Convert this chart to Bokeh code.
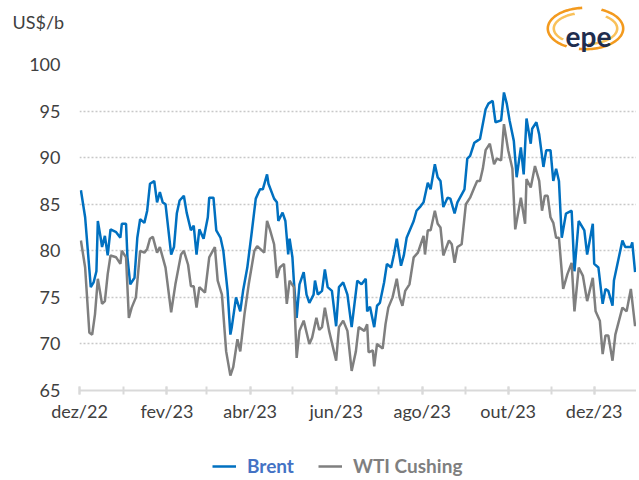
import numpy as np
import pandas as pd
from bokeh.plotting import figure
from bokeh.layouts import column
from bokeh.models import Range1d, FixedTicker, Legend, LegendItem
from bokeh.core.properties import value
from bokeh.embed import file_html
from bokeh.resources import INLINE

brent_dates = ["2022-12-02","2022-12-05","2022-12-09","2022-12-11","2022-12-13","2022-12-14","2022-12-16","2022-12-17","2022-12-19","2022-12-21","2022-12-23","2022-12-27","2022-12-30","2022-12-31",
"2023-01-03","2023-01-04","2023-01-06","2023-01-09","2023-01-11","2023-01-13","2023-01-16","2023-01-18","2023-01-20","2023-01-23","2023-01-25","2023-01-27","2023-01-29","2023-01-31",
"2023-02-04","2023-02-06","2023-02-08","2023-02-10","2023-02-13","2023-02-15","2023-02-18","2023-02-20","2023-02-22","2023-02-24","2023-02-27",
"2023-03-02","2023-03-03","2023-03-06","2023-03-08","2023-03-11","2023-03-13","2023-03-16","2023-03-18","2023-03-19","2023-03-22","2023-03-25","2023-03-27","2023-03-30",
"2023-04-02","2023-04-05","2023-04-08","2023-04-10","2023-04-13","2023-04-14","2023-04-18","2023-04-20","2023-04-21","2023-04-24","2023-04-26","2023-04-28","2023-04-29",
"2023-05-01","2023-05-02","2023-05-04","2023-05-06","2023-05-09","2023-05-11","2023-05-13","2023-05-16","2023-05-17","2023-05-19","2023-05-22","2023-05-24","2023-05-26","2023-05-29",
"2023-06-01","2023-06-03","2023-06-06","2023-06-09","2023-06-12","2023-06-16","2023-06-19","2023-06-22","2023-06-23","2023-06-25","2023-06-28","2023-06-30",
"2023-07-02","2023-07-05","2023-07-07","2023-07-10","2023-07-12","2023-07-14","2023-07-17","2023-07-19","2023-07-21","2023-07-26","2023-07-28","2023-07-31",
"2023-08-02","2023-08-05","2023-08-07","2023-08-10","2023-08-12","2023-08-14","2023-08-16","2023-08-19","2023-08-21","2023-08-24","2023-08-26","2023-08-31",
"2023-09-02","2023-09-04","2023-09-07","2023-09-09","2023-09-11","2023-09-15","2023-09-17","2023-09-20","2023-09-22","2023-09-26","2023-09-28","2023-09-30",
"2023-10-02","2023-10-05","2023-10-07","2023-10-10","2023-10-12","2023-10-14","2023-10-17","2023-10-18","2023-10-21","2023-10-23","2023-10-26","2023-10-28","2023-10-31",
"2023-11-02","2023-11-04","2023-11-06","2023-11-08","2023-11-11","2023-11-15","2023-11-17","2023-11-20","2023-11-24","2023-11-26","2023-11-30",
"2023-12-01","2023-12-04","2023-12-07","2023-12-09","2023-12-11","2023-12-14","2023-12-15","2023-12-21","2023-12-23","2023-12-27","2023-12-28","2023-12-30"]
brent_values = [86.5,83.6,76.1,76.6,77.8,83.2,81.4,80.4,81.6,79.5,82.3,82.0,81.4,82.9,
82.9,79.3,76.4,77.1,81.4,83.4,83.0,84.3,87.2,87.5,85.2,86.3,85.2,85.0,
79.6,80.4,84.0,85.4,85.9,84.1,82.2,82.7,79.6,82.3,81.3,
83.6,85.7,85.7,82.2,81.4,80.0,75.7,71.0,71.8,75.0,73.5,75.7,78.2,
81.8,85.6,86.6,86.6,88.2,87.2,85.6,85.2,83.2,84.1,83.2,79.6,81.3,
79.3,76.8,72.8,76.4,77.7,75.3,74.4,75.3,76.8,75.3,75.7,78.0,76.1,75.7,
71.9,76.1,76.6,75.3,71.8,76.8,76.4,77.0,73.5,74.0,71.8,74.1,
74.4,76.6,78.6,78.2,79.6,81.3,78.4,79.5,81.4,83.2,84.3,84.8,
85.2,87.3,86.6,89.3,87.9,87.5,84.7,85.7,85.6,84.0,85.2,86.6,
89.9,90.2,91.6,91.8,92.0,95.2,95.8,96.1,93.8,94.0,97.0,95.8,
94.0,91.8,87.9,91.1,88.2,94.2,91.5,93.1,93.8,92.5,89.0,90.8,90.8,
87.5,88.8,87.5,81.4,84.0,84.3,77.8,83.2,82.2,79.6,82.9,
78.6,78.2,74.3,75.9,75.7,74.1,76.8,81.1,80.4,80.4,80.9,77.7]

wti_dates = ["2022-12-02","2022-12-05","2022-12-08","2022-12-10","2022-12-12","2022-12-14","2022-12-17","2022-12-19","2022-12-21","2022-12-23","2022-12-27","2022-12-30","2022-12-31",
"2023-01-03","2023-01-05","2023-01-07","2023-01-10","2023-01-13","2023-01-16","2023-01-18","2023-01-20","2023-01-22","2023-01-25","2023-01-27","2023-01-31",
"2023-02-04","2023-02-07","2023-02-11","2023-02-13","2023-02-16","2023-02-18","2023-02-20","2023-02-22","2023-02-24","2023-02-28",
"2023-03-03","2023-03-07","2023-03-09","2023-03-12","2023-03-15","2023-03-18","2023-03-20","2023-03-23","2023-03-25","2023-03-28","2023-03-31",
"2023-04-04","2023-04-06","2023-04-11","2023-04-13","2023-04-15","2023-04-18","2023-04-20","2023-04-22","2023-04-25","2023-04-27","2023-04-29",
"2023-05-02","2023-05-04","2023-05-06","2023-05-09","2023-05-13","2023-05-15","2023-05-18","2023-05-20","2023-05-22","2023-05-24","2023-05-27",
"2023-06-01","2023-06-03","2023-06-06","2023-06-09","2023-06-12","2023-06-15","2023-06-17","2023-06-21","2023-06-23","2023-06-24","2023-06-27","2023-06-28","2023-06-30",
"2023-07-04","2023-07-06","2023-07-08","2023-07-11","2023-07-14","2023-07-16","2023-07-18","2023-07-20","2023-07-23","2023-07-26","2023-07-29","2023-07-31",
"2023-08-02","2023-08-03","2023-08-05","2023-08-07","2023-08-10","2023-08-12","2023-08-14","2023-08-16","2023-08-20","2023-08-22","2023-08-24","2023-08-26","2023-08-29",
"2023-09-01","2023-09-04","2023-09-07","2023-09-09","2023-09-11","2023-09-13","2023-09-15","2023-09-18","2023-09-21","2023-09-23","2023-09-26","2023-09-28",
"2023-10-01","2023-10-04","2023-10-06","2023-10-10","2023-10-13","2023-10-14","2023-10-17","2023-10-20","2023-10-23","2023-10-25","2023-10-27","2023-10-29","2023-10-31",
"2023-11-02","2023-11-04","2023-11-06","2023-11-09","2023-11-12","2023-11-15","2023-11-17","2023-11-20","2023-11-23","2023-11-26","2023-11-30",
"2023-12-02","2023-12-05","2023-12-07","2023-12-09","2023-12-11","2023-12-14","2023-12-16","2023-12-21","2023-12-24","2023-12-27","2023-12-30"]
wti_values = [81.1,78.2,71.2,71.0,73.2,77.0,74.3,74.6,77.5,79.5,79.3,78.6,80.0,
79.3,72.8,73.9,75.0,80.0,79.8,80.2,81.3,81.5,79.8,80.4,78.2,
73.4,76.4,79.6,80.0,78.5,76.2,76.2,73.9,76.1,75.5,
79.3,80.4,76.8,75.3,69.2,66.6,67.5,70.5,69.2,73.2,76.4,
80.0,80.5,79.8,83.2,82.3,80.7,77.1,78.2,78.6,74.3,76.8,
76.1,68.5,71.4,72.5,70.0,70.7,72.8,71.5,71.8,73.9,71.4,
68.2,71.8,72.5,71.4,67.1,69.2,71.8,71.4,72.1,69.1,69.3,67.6,70.0,
69.5,72.1,73.9,75.0,77.0,75.0,74.1,75.7,76.4,79.3,79.8,80.7,
81.6,79.6,82.2,82.2,84.3,82.9,82.5,79.5,81.1,80.7,78.7,80.4,80.7,
85.0,85.7,86.8,87.5,87.5,88.8,90.8,91.5,89.3,89.9,89.7,93.6,
90.8,88.8,82.3,85.7,82.9,87.7,86.8,89.1,87.5,84.3,85.9,85.9,83.6,
83.0,81.4,81.4,75.9,77.5,78.7,73.5,78.2,77.3,74.6,77.1,
73.5,72.5,68.9,70.9,70.9,68.2,71.0,73.9,73.5,75.9,71.9]

series_names = ["Brent", "WTI Cushing"]
series_colors = ["#0070C0", "#7F7F7F"]
legend_text_colors = ["#4472C4", "#7F7F7F"]

tick_dates = ["2022-12-01","2023-02-01","2023-04-01","2023-06-01","2023-08-01","2023-10-01","2023-12-01"]
tick_labels = ["dez/22","fev/23","abr/23","jun/23","ago/23","out/23","dez/23"]
month_dates = ["2022-12-01","2023-01-01","2023-02-01","2023-03-01","2023-04-01","2023-05-01","2023-06-01",
               "2023-07-01","2023-08-01","2023-09-01","2023-10-01","2023-11-01","2023-12-01"]
y_ticks = [65, 70, 75, 80, 85, 90, 95, 100]
y_title = "US$/b"
logo_text = "epe"

def ms(d):
    return int(pd.Timestamp(d).value // 10**6)

W = 636
TOP_H, MAIN_H, LEG_H = 52, 388, 38
FONT = "Lato"
TXT = "#404040"

# ---------------- header: unit title + logo ----------------
top = figure(width=W, height=TOP_H, x_range=Range1d(0, W), y_range=Range1d(TOP_H, 0),
             x_axis_location=None, y_axis_location=None, output_backend="svg",
             toolbar_location=None, min_border=0, frame_align=False)
top.outline_line_color = None
top.grid.visible = False
top.text(x=[12], y=[21], text=[y_title], text_baseline="middle", text_align="left",
         text_font=value(FONT), text_font_size="18px", text_color=TXT)

def band(cx, cy, rx, ry, w, a0, a1, n=60):
    t = np.radians(np.linspace(a0, a1, n))
    xo = cx + rx * np.cos(t); yo = cy - ry * np.sin(t)
    xi = cx + (rx - w) * np.cos(t[::-1]); yi = cy - (ry - w) * np.sin(t[::-1])
    return list(np.concatenate([xo, xi])), list(np.concatenate([yo, yi]))

lcx, lcy = 585, 28
arc_specs = [(39, 22, 95, 240, "#F39A1E"), (33, 17, 110, 225, "#F9C15A"),
             (39, 22, -100, 65, "#F39A1E"), (33, 17, -85, 50, "#F9C15A")]
pxs, pys, pcs = [], [], []
for rx, ry, a0, a1, col in arc_specs:
    xs, ys = band(lcx, lcy, rx, ry, 2.6, a0, a1)
    pxs.append(xs); pys.append(ys); pcs.append(col)
top.patches(xs=pxs, ys=pys, fill_color=pcs, line_color=None)
top.text(x=[lcx + 3], y=[35], text=[logo_text], text_baseline="alphabetic", text_align="center",
         text_font=value(FONT), text_font_style="bold", text_font_size="28px", text_color="#1F2D4E")

# ---------------- main chart ----------------
p = figure(width=W, height=MAIN_H, x_axis_type="datetime",
           x_range=Range1d(pd.Timestamp("2022-12-01"), pd.Timestamp("2023-12-31")),
           y_range=Range1d(65, 100),
           output_backend="svg", toolbar_location=None, frame_align=False,
           min_border_left=79, min_border_right=0, min_border_top=12, min_border_bottom=50)
p.outline_line_color = None

r1 = p.line(pd.to_datetime(brent_dates), brent_values, line_color=series_colors[0], line_width=2.5)
r2 = p.line(pd.to_datetime(wti_dates), wti_values, line_color=series_colors[1], line_width=2.5)

xa = p.xaxis[0]
xa.ticker = FixedTicker(ticks=[ms(d) for d in tick_dates], minor_ticks=[ms(d) for d in month_dates])
xa.major_label_overrides = {ms(d): lab for d, lab in zip(tick_dates, tick_labels)}
xa.axis_line_color = "#D9D9D9"
xa.axis_line_width = 2
for pre in ("major", "minor"):
    setattr(xa, pre + "_tick_line_color", "#D9D9D9")
    setattr(xa, pre + "_tick_line_width", 2)
    setattr(xa, pre + "_tick_in", 4)
    setattr(xa, pre + "_tick_out", 4)
xa.major_label_text_font = FONT
xa.major_label_text_font_size = "18px"
xa.major_label_text_color = TXT
xa.major_label_standoff = 5

ya = p.yaxis[0]
ya.ticker = FixedTicker(ticks=y_ticks)
ya.axis_line_color = None
ya.major_tick_line_color = None
ya.minor_tick_line_color = None
ya.major_tick_out = 0
ya.major_tick_in = 0
ya.major_label_text_font = FONT
ya.major_label_text_font_size = "18px"
ya.major_label_text_color = TXT
ya.major_label_standoff = 19

p.xgrid.visible = False
p.ygrid.grid_line_color = "#C8C8C8"
p.ygrid.grid_line_dash = "2 2"
p.ygrid.grid_line_width = 1.5

# ---------------- legend row ----------------
leg = figure(width=W, height=LEG_H, x_range=Range1d(0, 1), y_range=Range1d(0, 1),
             x_axis_location=None, y_axis_location=None, output_backend="svg",
             toolbar_location=None, min_border=0, frame_align=False)
leg.outline_line_color = None
leg.grid.visible = False
for name, col, tc, lx in [(series_names[0], series_colors[0], legend_text_colors[0], 212),
                          (series_names[1], series_colors[1], legend_text_colors[1], 318)]:
    # swatch renderer: kept outside the visible range, only its legend sample shows
    sw = leg.line(x=[-5, -4], y=[-5, -5], line_color=col, line_width=2.5)
    lg = Legend(items=[LegendItem(label=name, renderers=[sw])], location=(lx, 1),
                orientation="horizontal", label_text_color=tc, label_text_font=FONT,
                label_text_font_style="bold", label_text_font_size="19px",
                glyph_width=24, glyph_height=20, label_height=20, label_standoff=11,
                padding=0, margin=0, spacing=0, border_line_color=None,
                background_fill_alpha=0)
    leg.add_layout(lg)

layout = column(top, p, leg, spacing=0)
open("out.html", "w").write(file_html(layout, INLINE))
